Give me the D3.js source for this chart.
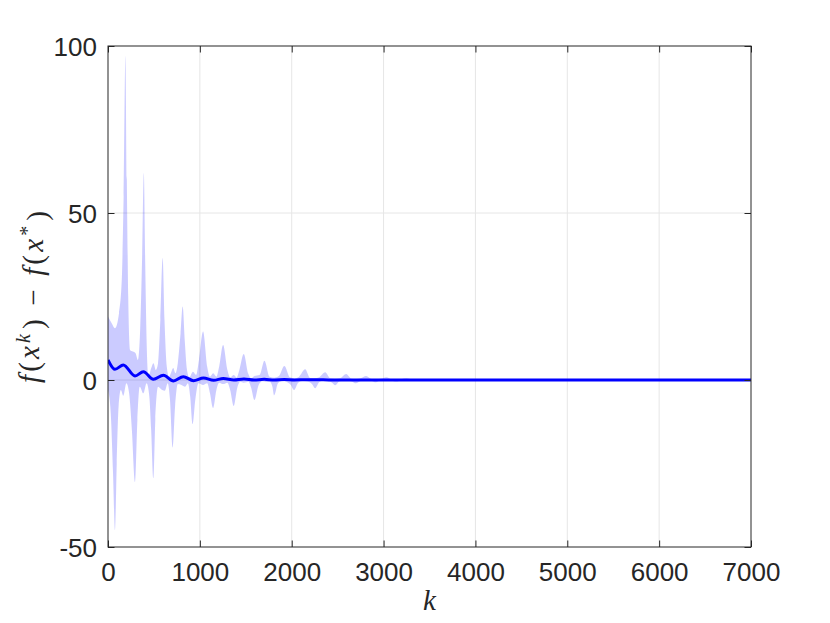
<!DOCTYPE html>
<html><head><meta charset="utf-8">
<script src="https://cdn.jsdelivr.net/npm/d3@7"></script>
<style>html,body{margin:0;padding:0;background:#fff;}</style>
</head><body>
<script>
// ---- data ----
const xTicks = [0,1000,2000,3000,4000,5000,6000,7000];
const yTicks = [-50,0,50,100];
const upperK = [0,40,76,120,150,170,190,205,220,240,270,300,325,350,370,390,405,420,440,470,495,520,545,570,595,615,640,665,690,710,735,760,790,813,835,860,885,925,960,990,1035,1080,1110,1145,1180,1210,1253,1300,1330,1370,1400,1430,1478,1525,1560,1594,1650,1703,1760,1810,1860,1921,1980,2030,2080,2146,2200,2250,2300,2364,2420,2470,2530,2593,2650,2700,2750,2810,2870,2920,2970,3030,3090,3140,3190,3250,3310,3360,3470,3600,7000];
const upperV = [19,17,15.5,20,30,55,97,60,25,9,8.5,8,6,15,35,62,35,12,1,3.5,5,3,5,18,36.5,18,4,1,2.5,3.6,2,5,14,22,12,3,0.8,2.5,1.5,6,14.5,4,1,2,1,4,10.5,3,0.8,1.5,0.7,3,7.8,2,0.5,1.2,1.5,5.8,1,0.7,1.2,4.2,0.8,0.5,1,3.2,0.6,0.5,0.8,2.3,0.5,0.4,0.6,1.8,0.4,0.3,0.5,1.2,0.3,0.2,0.35,0.8,0.2,0.15,0.25,0.5,0.12,0.1,0.3,0.05,0.02];
const lowerK = [0,30,55,76,95,115,140,167,200,230,260,294,320,345,385,420,450,470,494,515,545,590,620,650,675,704,730,760,800,840,870,895,922,950,985,1035,1080,1110,1144,1180,1210,1253,1300,1330,1369,1410,1440,1478,1530,1560,1594,1640,1680,1720,1760,1790,1808,1850,1890,1940,1990,2026,2070,2110,2160,2220,2255,2300,2340,2390,2440,2473,2520,2560,2610,2660,2698,2750,2800,2870,2915,2970,3090,3135,3200,3350,3600,7000];
const lowerV = [-3,-10,-28,-45,-25,-8,-3,-4.7,-1,-4,-15,-30.6,-12,-2,-4,-1,-5,-15,-29.4,-12,-2,-3,-3.2,-1,-6,-20.2,-8,-1.2,-1.5,-2,-1,-5,-13.2,-6,-1,-1.5,-1,-4,-8.4,-3,-0.8,-1.2,-0.8,-3,-7.8,-2,-0.5,-0.8,-0.5,-2.5,-6,-1.5,-0.4,-0.6,-0.5,-2,-4.6,-1,-0.3,-0.5,-1.5,-3,-0.8,-0.3,-0.4,-1.2,-2.5,-0.6,-0.2,-0.3,-0.8,-1.6,-0.4,-0.2,-0.2,-0.5,-1,-0.3,-0.1,-0.3,-0.7,-0.1,-0.2,-0.45,-0.05,-0.25,-0.05,-0.02];
const meanK = [0,76,167,294,385,494,603,712,820,930,1040,1150,1255,1370,1480,1590,1700,1810,1920,2030,2150,2400,3000,7000];
const meanV = [6.0,3.2,4.5,1.2,2.5,0.2,1.4,-0.3,1.0,-0.2,0.6,-0.1,0.45,0,0.3,0,0.2,0.02,0.12,0.02,0.08,0.03,0.01,0];

// ---- layout ----
const W = 830, H = 623;
const L = 108, R = 751, T = 46, B = 547;
const svg = d3.select("body").append("svg").attr("width", W).attr("height", H)
  .style("font-family", "'Liberation Sans', Arial, Helvetica, sans-serif");
const x = d3.scaleLinear().domain([0,7000]).range([L,R]);
const y = d3.scaleLinear().domain([-50,100]).range([B,T]);
const axisColor = "#262626";

// grid
svg.append("g").selectAll("line").data(xTicks.filter(d => d > 0 && d < 7000)).join("line")
  .attr("x1", d => x(d)).attr("x2", d => x(d)).attr("y1", T).attr("y2", B)
  .attr("stroke", "#e6e6e6").attr("stroke-width", 1);
svg.append("g").selectAll("line").data(yTicks.filter(d => d > -50 && d < 100)).join("line")
  .attr("x1", L).attr("x2", R).attr("y1", d => y(d)).attr("y2", d => y(d))
  .attr("stroke", "#e6e6e6").attr("stroke-width", 1);

// band: upper part (0..upper) and lower part (lower..0), same fill
svg.append("defs").append("clipPath").attr("id","clip").append("rect")
  .attr("x", L).attr("y", T).attr("width", R-L).attr("height", B-T);
const upPts = upperK.map((k,i) => [k, upperV[i]]);
const loPts = lowerK.map((k,i) => [k, lowerV[i]]);
const area = d3.area().x(d => x(d[0])).y0(y(0)).y1(d => y(d[1])).curve(d3.curveMonotoneX);
const band = svg.append("g").attr("clip-path", "url(#clip)").attr("opacity", 0.2);
band.append("path").attr("d", area(upPts)).attr("fill", "#0000ff");
band.append("path").attr("d", area(loPts)).attr("fill", "#0000ff");

// mean line
const meanPts = meanK.map((k,i) => [k, meanV[i]]);
const line = d3.line().x(d => x(d[0])).y(d => y(d[1])).curve(d3.curveMonotoneX);
svg.append("path").attr("d", line(meanPts))
  .attr("fill", "none").attr("stroke", "#0000ff").attr("stroke-width", 3)
  .attr("clip-path", "url(#clip)");

// axes box
svg.append("rect").attr("x", L).attr("y", T).attr("width", R-L).attr("height", B-T)
  .attr("fill", "none").attr("stroke", axisColor).attr("stroke-width", 1);

// ticks (inward) using d3 axes
const tl = 6.5;
const fmt = d => String(d);
const xb = svg.append("g").attr("transform", `translate(0,${B})`)
  .call(d3.axisBottom(x).tickValues(xTicks).tickSize(-tl).tickSizeOuter(0).tickFormat(fmt));
const xt = svg.append("g").attr("transform", `translate(0,${T})`)
  .call(d3.axisTop(x).tickValues(xTicks).tickSize(-tl).tickSizeOuter(0).tickFormat(""));
const yl = svg.append("g").attr("transform", `translate(${L},0)`)
  .call(d3.axisLeft(y).tickValues(yTicks).tickSize(-tl).tickSizeOuter(0).tickFormat(fmt).tickPadding(11));
const yr = svg.append("g").attr("transform", `translate(${R},0)`)
  .call(d3.axisRight(y).tickValues(yTicks).tickSize(-tl).tickSizeOuter(0).tickFormat(""));
[xb,xt,yl,yr].forEach(g => {
  g.select(".domain").remove();
  g.selectAll(".tick line").attr("stroke", axisColor);
  g.selectAll("text").attr("fill", axisColor).style("font-size", "26px")
    .style("font-family", "'Liberation Sans', Arial, Helvetica, sans-serif");
});
xb.selectAll("text").attr("dy", null).attr("y", 34);
yl.selectAll("text").attr("dy", "0.35em");

// x label
svg.append("text").attr("x", (L+R)/2).attr("y", 610).attr("text-anchor","middle")
  .style("font-family","'Liberation Serif','DejaVu Serif',serif").style("font-style","italic")
  .style("font-size","29px").attr("fill", axisColor).text("k");

// y label
const yLab = svg.append("text").attr("transform", "translate(39,297) rotate(-90)")
  .attr("text-anchor","middle")
  .attr("textLength", 172).attr("lengthAdjust", "spacing")
  .style("font-family","'Liberation Serif','DejaVu Serif',serif").style("font-size","29px")
  .attr("fill", axisColor);
const parts = [
  {t:"f", it:true}, {t:"(", it:false}, {t:"x", it:true}, {t:"k", it:true, sup:true},
  {t:")", it:false, down:true}, {t:" − ", it:false}, {t:"f", it:true}, {t:"(", it:false},
  {t:"x", it:true}, {t:"*", it:false, sup:true}, {t:")", it:false, down:true}
];
parts.forEach(p => {
  const ts = yLab.append("tspan").text(p.t).style("font-style", p.it ? "italic" : "normal");
  if (p.sup) ts.attr("dy", "-0.45em").style("font-size", "20px");
  if (p.down) ts.attr("dy", "0.45em").attr("dx", "2");
});
</script>
</body></html>
